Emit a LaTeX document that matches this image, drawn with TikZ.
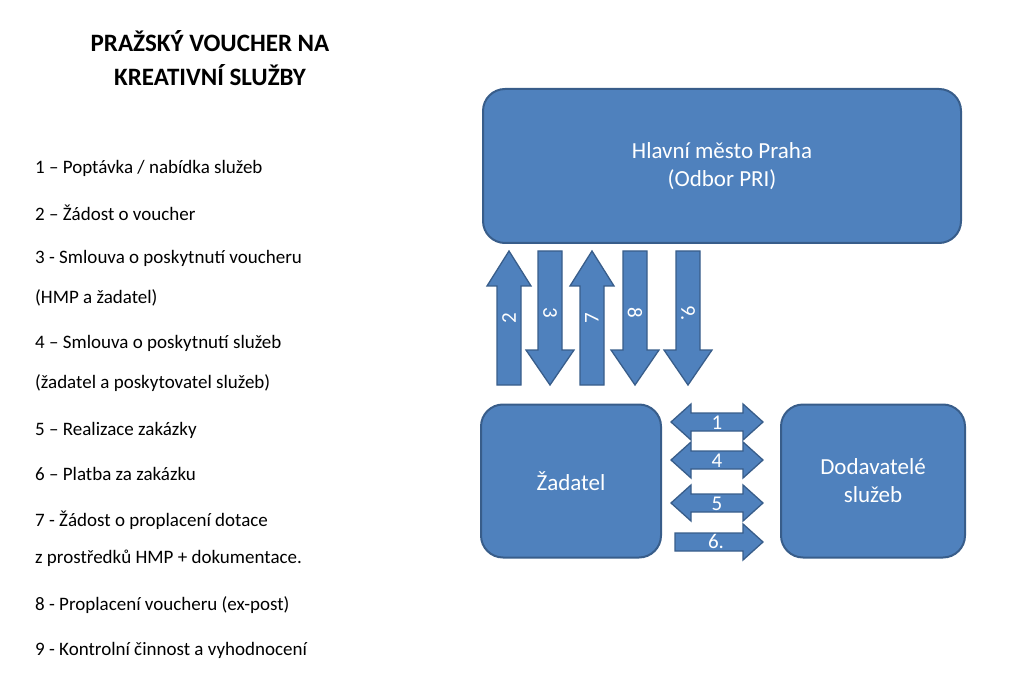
\documentclass[tikz,border=0pt]{standalone}
\usepackage{fontspec}
\setmainfont{Carlito}
\begin{document}
\begin{tikzpicture}[x=1pt,y=-1pt,
  box/.style={draw=bbd,fill=bb,line width=2pt,rounded corners=22pt,text=white,font=\fontsize{23}{28}\selectfont,align=center},
  arr/.style={draw=bbd,fill=bb,line width=1.3pt},
  lst/.style={anchor=west,font=\fontsize{19}{22}\selectfont,inner sep=0pt},
  num/.style={text=white,font=\fontsize{21}{24}\selectfont,inner sep=0pt}]
\definecolor{bb}{HTML}{4F81BD}\definecolor{bbd}{HTML}{385D8A}
\useasboundingbox (0,0) rectangle (1024,700);
\node[font=\bfseries\fontsize{25}{34}\selectfont,align=center] (title) at (210,58) {PRAŽSKÝ VOUCHER NA\\KREATIVNÍ SLUŽBY};
\foreach \y/\t [count=\i] in {168/{1 – Poptávka / nabídka služeb},213/{2 – Žádost o voucher},258/{3 - Smlouva o poskytnutí voucheru},298/{(HMP a žadatel)},343/{4 – Smlouva o poskytnutí služeb},383/{(žadatel a poskytovatel služeb)},430/{5 – Realizace zakázky},474/{6 – Platba za zakázku},520/{7 - Žádost o proplacení dotace},558/{z prostředků HMP + dokumentace.},605/{8 - Proplacení voucheru (ex-post)},650/{9 - Kontrolní činnost a vyhodnocení}}
  \node[lst] (l\i) at (35,\y) {\t};
\node[box,minimum width=478pt,minimum height=154pt] (hmp) at (722,166) {Hlavní město Praha\\(Odbor PRI)};
\node[box,minimum width=180pt,minimum height=153pt] (zad) at (571,481) {Žadatel};
\node[box,minimum width=184pt,minimum height=153pt] (dod) at (873,481) {Dodavatelé\\služeb};
% up arrows
\foreach \c/\t in {509/2,592/7}{
  \draw[arr] (\c-12,385) -- (\c-12,286) -- (\c-22,286) -- (\c,251) -- (\c+22,286) -- (\c+12,286) -- (\c+12,385) -- cycle;
  \node[num,rotate=90] (u\t) at (\c,318) {\t};}
% down arrows
\foreach \c/\t in {550/3,635/8,688/9.}{
  \draw[arr] (\c-12,251) -- (\c-12,350) -- (\c-24,350) -- (\c,385) -- (\c+24,350) -- (\c+12,350) -- (\c+12,251) -- cycle;
  \node[num,rotate=-90] (d\t) at (\c,313) {\t};}
% double arrows
\foreach \y/\t in {422/1,460/4,503/5}{
  \draw[arr] (671,\y) -- (691,\y-18) -- (691,\y-9) -- (743,\y-9) -- (743,\y-18) -- (763,\y) -- (743,\y+18) -- (743,\y+9) -- (691,\y+9) -- (691,\y+18) -- cycle;
  \node[num] (h\t) at (717,\y+1) {\t};}
\draw[arr] (675,533) -- (743,533) -- (743,524) -- (763,542) -- (743,560) -- (743,551) -- (675,551) -- cycle;
\node[num] (h6) at (716,541) {6.};
\end{tikzpicture}
\end{document}
